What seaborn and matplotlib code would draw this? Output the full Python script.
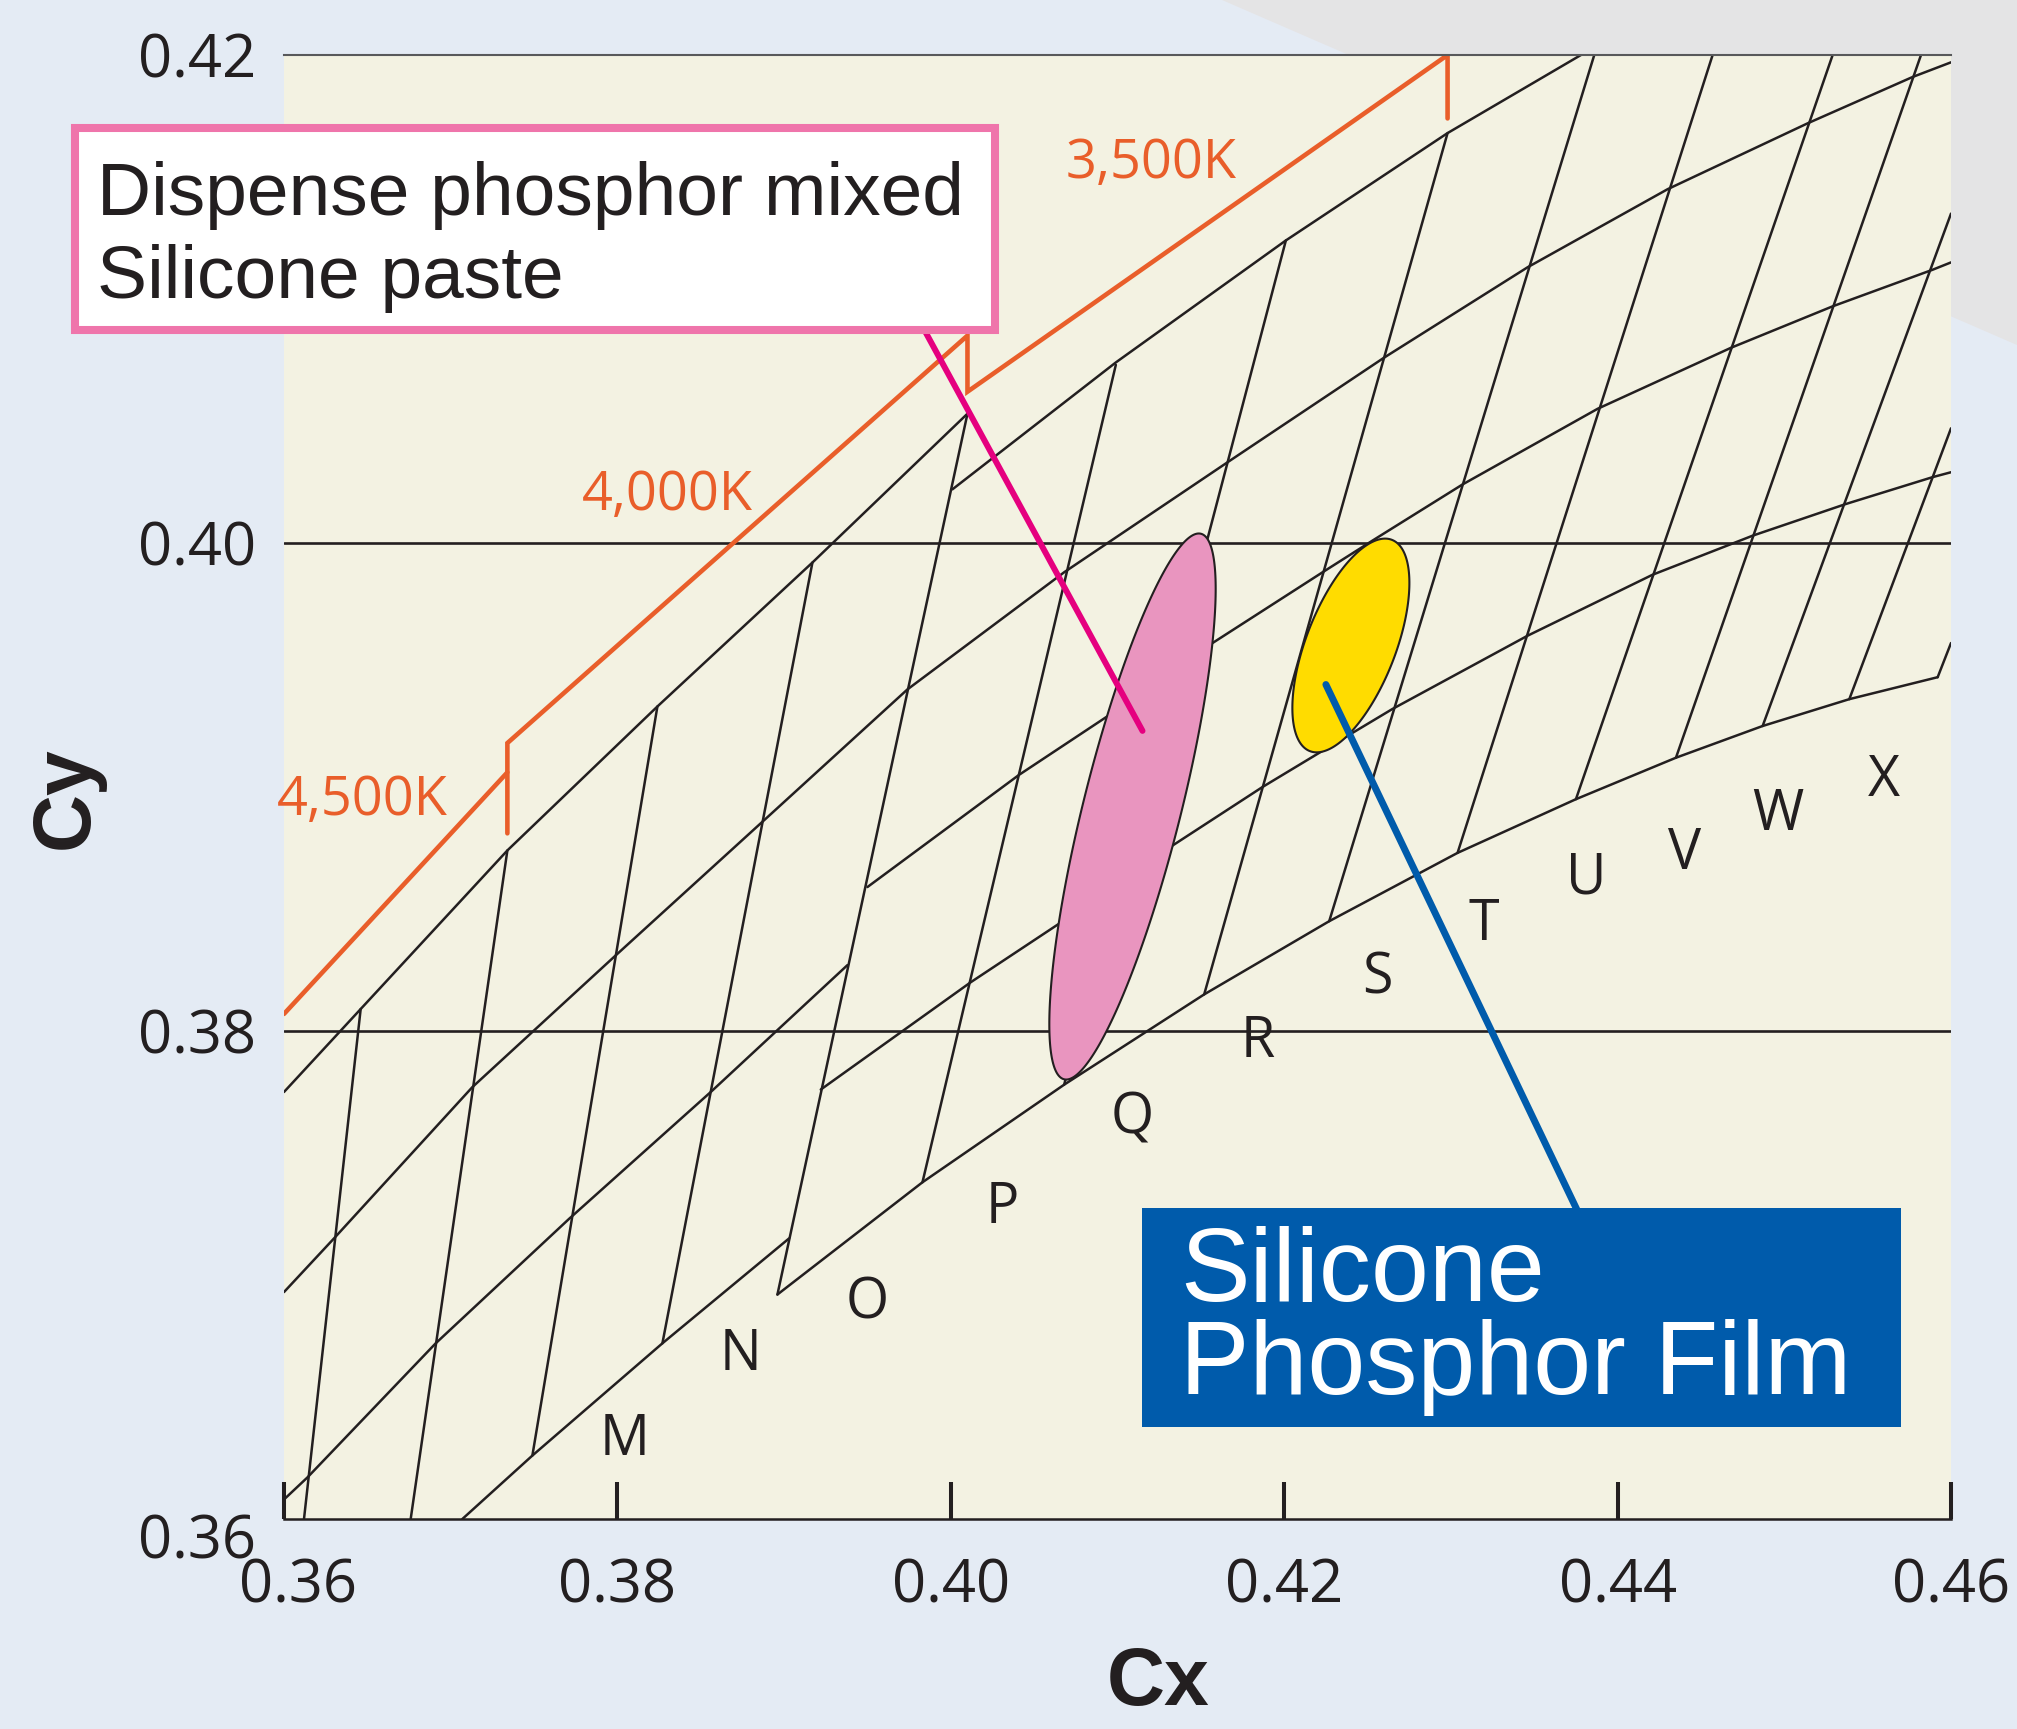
import numpy as np
import pandas as pd
import seaborn as sns
import matplotlib.pyplot as plt
from matplotlib import font_manager
from matplotlib.patches import Rectangle, Polygon
from matplotlib.transforms import ScaledTranslation

sns.set_theme(style='white')
plt.rcParams['font.family'] = ['Liberation Sans', 'DejaVu Sans']

# narrow face for ticks / bin letters if it is there, otherwise a humanist sans
have_narrow = 'Liberation Sans Narrow' in {f.name for f in font_manager.fontManager.ttflist}
cond_font = ['Liberation Sans Narrow', 'DejaVu Sans'] if have_narrow else ['Open Sans', 'DejaVu Sans']
tick_size = 48 if have_narrow else 43
bin_size = 45 if have_narrow else 40
cct_size = 44 if have_narrow else 39

INK = '#231F20'
ORANGE = '#E95E2A'
MAGENTA = '#E5007F'
PINK_EDGE = '#EF75AB'
BLUE = '#005BAB'
BG = '#E4EBF4'
CREAM = '#F3F2E2'

# ---------------- data (CIE chromaticity Cx, Cy) ----------------
x_ticks = [0.36, 0.38, 0.40, 0.42, 0.44, 0.46]
y_ticks = [0.36, 0.38, 0.40, 0.42]
ref_levels = [0.38, 0.40]

# bin rows: curves running up to the right
curve_a_x = [0.3600, 0.3646, 0.3734, 0.3824, 0.3917, 0.4010]
curve_a_y = [0.3775, 0.3809, 0.3874, 0.3933, 0.3992, 0.4053]
curve_b_x = [0.3600, 0.3630, 0.3713, 0.3799, 0.3889, 0.3974, 0.4068, 0.4168, 0.4260, 0.4346, 0.4430, 0.4514, 0.4577, 0.4600]
curve_b_y = [0.3693, 0.3715, 0.3777, 0.3831, 0.3887, 0.3940, 0.3988, 0.4034, 0.4076, 0.4113, 0.4145, 0.4172, 0.4191, 0.4197]
curve_c_x = [0.3600, 0.3614, 0.3691, 0.3771, 0.3856, 0.3938]
curve_c_y = [0.3608, 0.3617, 0.3672, 0.3723, 0.3775, 0.3827]
curve_d_x = [0.3707, 0.3749, 0.3827, 0.3903]
curve_d_y = [0.3600, 0.3626, 0.3672, 0.3715]
curve_e_x = [0.4001, 0.4099, 0.4201, 0.4298, 0.4378]
curve_e_y = [0.4022, 0.4074, 0.4124, 0.4168, 0.4200]
curve_f_x = [0.3950, 0.4041, 0.4094, 0.4157, 0.4223, 0.4253, 0.4307, 0.4388, 0.4468, 0.4529, 0.4589, 0.4600]
curve_f_y = [0.3859, 0.3905, 0.3929, 0.3959, 0.3988, 0.4001, 0.4024, 0.4055, 0.4080, 0.4097, 0.4112, 0.4115]
curve_g_x = [0.3922, 0.4012, 0.4065, 0.4133, 0.4187, 0.4221, 0.4265, 0.4346, 0.4421, 0.4481, 0.4537, 0.4589, 0.4600]
curve_g_y = [0.3776, 0.3820, 0.3844, 0.3876, 0.3900, 0.3914, 0.3932, 0.3962, 0.3987, 0.4003, 0.4016, 0.4027, 0.4029]
curve_h_x = [0.3896, 0.3983, 0.4068, 0.4152, 0.4227, 0.4304, 0.4375, 0.4435, 0.4487, 0.4539, 0.4592]
curve_h_y = [0.3692, 0.3738, 0.3778, 0.3815, 0.3845, 0.3873, 0.3895, 0.3912, 0.3925, 0.3936, 0.3945]

# bin edges: lower end -> upper end
edge_x0 = [0.3612, 0.3676, 0.3749, 0.3827, 0.3896, 0.3983, 0.4068, 0.4152, 0.4227, 0.4304, 0.4375, 0.4435, 0.4487, 0.4539, 0.4592]
edge_y0 = [0.3600, 0.3600, 0.3626, 0.3672, 0.3692, 0.3738, 0.3778, 0.3815, 0.3845, 0.3873, 0.3895, 0.3912, 0.3925, 0.3936, 0.3945]
edge_x1 = [0.3646, 0.3734, 0.3824, 0.3917, 0.4010, 0.4099, 0.4201, 0.4298, 0.4386, 0.4457, 0.4529, 0.4582, 0.4600, 0.4600, 0.4600]
edge_y1 = [0.3809, 0.3874, 0.3933, 0.3992, 0.4053, 0.4073, 0.4124, 0.4168, 0.4200, 0.4200, 0.4200, 0.4200, 0.4135, 0.4047, 0.3959]

# CCT boundary (orange) with its steps
cct_lower_x = [0.3600, 0.3734]
cct_lower_y = [0.3807, 0.3906]
cct_upper_x = [0.3734, 0.3734, 0.4010, 0.4010, 0.4298, 0.4298]
cct_upper_y = [0.3881, 0.3918, 0.4085, 0.4062, 0.4200, 0.4174]
cct_names = ['4,500K', '4,000K', '3,500K']
cct_label_x = [0.3647, 0.3830, 0.4120]
cct_label_y = [0.3897, 0.4022, 0.4158]

bin_names = ['M', 'N', 'O', 'P', 'Q', 'R', 'S', 'T', 'U', 'V', 'W', 'X']
bin_label_x = [0.3804, 0.3874, 0.3950, 0.4031, 0.4109, 0.4184, 0.4256, 0.4320, 0.4381, 0.4440, 0.4496, 0.4560]
bin_label_y = [0.3635, 0.3670, 0.3691, 0.3730, 0.3767, 0.3798, 0.3824, 0.3846, 0.3865, 0.3875, 0.3891, 0.3905]

# colour spread of the two processes (ellipses)
spot_names = ['Dispense phosphor mixed\nSilicone paste', 'Silicone\nPhosphor Film']
spot_cx = [0.4109, 0.4240]
spot_cy = [0.3892, 0.3958]
spot_half_w = [0.00499, 0.00351]
spot_half_h = [0.01119, 0.00438]
spot_tilt = [0.797, 0.585]
spot_colors = ['#E995BF', '#FFDC00']
pointer_x = [0.4115, 0.4225]
pointer_y = [0.3923, 0.3942]

# ---------------- figure ----------------
fig = plt.figure(figsize=(20.17, 17.29), dpi=100, facecolor=BG)
fig.patches.append(Polygon([(0.6058, 1.0), (1.0, 1.0), (1.0, 0.8005)], closed=True,
                           transform=fig.transFigure, facecolor='#E4E4E5', edgecolor='none', zorder=-1))
ax = fig.add_axes([0.1408, 0.12146, 0.82648, 0.84673])
ax.set_facecolor(CREAM)

rows = []
curves = {'a': (curve_a_x, curve_a_y), 'b': (curve_b_x, curve_b_y), 'c': (curve_c_x, curve_c_y),
          'd': (curve_d_x, curve_d_y), 'e': (curve_e_x, curve_e_y), 'f': (curve_f_x, curve_f_y),
          'g': (curve_g_x, curve_g_y), 'h': (curve_h_x, curve_h_y)}
for name, (xs, ys) in curves.items():
    for x, y in zip(xs, ys):
        rows.append({'line': name, 'cx': x, 'cy': y})
for i, (x0, y0, x1, y1) in enumerate(zip(edge_x0, edge_y0, edge_x1, edge_y1)):
    rows.append({'line': f'edge{i}', 'cx': x0, 'cy': y0})
    rows.append({'line': f'edge{i}', 'cx': x1, 'cy': y1})
grid_df = pd.DataFrame(rows)
sns.lineplot(data=grid_df, x='cx', y='cy', units='line', estimator=None, sort=False,
             color=INK, linewidth=1.8, legend=False, ax=ax, zorder=2)

for y in ref_levels:
    ax.axhline(y, color=INK, linewidth=1.9, zorder=2)

cct_df = pd.DataFrame({'cx': cct_lower_x + cct_upper_x, 'cy': cct_lower_y + cct_upper_y,
                       'part': ['low'] * len(cct_lower_x) + ['up'] * len(cct_upper_x)})
sns.lineplot(data=cct_df, x='cx', y='cy', units='part', estimator=None, sort=False,
             color=ORANGE, linewidth=3.3, legend=False, ax=ax, zorder=2.5,
             solid_capstyle='round', solid_joinstyle='miter')

for s, x, y in zip(cct_names, cct_label_x, cct_label_y):
    ax.text(x, y, s, ha='center', va='center_baseline', color=ORANGE,
            fontsize=cct_size, family=cond_font)
for s, x, y in zip(bin_names, bin_label_x, bin_label_y):
    ax.text(x, y, s, ha='center', va='center_baseline', color=INK,
            fontsize=bin_size, family=cond_font)

t = np.linspace(0, 2 * np.pi, 300)
for cx, cy, hw, hh, rho, col in zip(spot_cx, spot_cy, spot_half_w, spot_half_h, spot_tilt, spot_colors):
    ex = cx + hw * np.cos(t)
    ey = cy + hh * (rho * np.cos(t) + np.sqrt(1 - rho ** 2) * np.sin(t))
    ax.fill(ex, ey, facecolor=col, edgecolor=INK, linewidth=1.5, zorder=3)

# leader lines from the boxes to the spots
ax.annotate('', xy=(pointer_x[0], pointer_y[0]), xycoords='data',
            xytext=(0.4564, 0.8132), textcoords='figure fraction',
            arrowprops=dict(arrowstyle='-', color=MAGENTA, lw=4.3, shrinkA=0, shrinkB=0), zorder=4)
ax.annotate('', xy=(pointer_x[1], pointer_y[1]), xycoords='data',
            xytext=(0.7838, 0.2955), textcoords='figure fraction',
            arrowprops=dict(arrowstyle='-', color=BLUE, lw=5.0, shrinkA=0, shrinkB=0,
                            capstyle='round'), zorder=4)

ax.set_xlim(0.36, 0.46)
ax.set_ylim(0.36, 0.42)
ax.set_xticks(x_ticks)
ax.set_xticklabels([f'{v:.2f}' for v in x_ticks])
ax.set_yticks(y_ticks)
ax.set_yticklabels([f'{v:.2f}' for v in y_ticks])
ax.tick_params(axis='x', bottom=True, direction='in', length=26.6, width=2.9, color=INK,
               pad=27, labelsize=tick_size, labelcolor=INK)
ax.tick_params(axis='y', left=False, length=0, pad=20, labelsize=tick_size, labelcolor=INK)
for lab in ax.get_xticklabels() + ax.get_yticklabels():
    lab.set_family(cond_font)
ax.xaxis.get_major_ticks()[0].label1.set_transform(
    ax.xaxis.get_major_ticks()[0].label1.get_transform() + ScaledTranslation(0.14, 0, fig.dpi_scale_trans))
ax.yaxis.get_major_ticks()[0].label1.set_transform(
    ax.yaxis.get_major_ticks()[0].label1.get_transform() + ScaledTranslation(0, -0.17, fig.dpi_scale_trans))

for side in ['left', 'right']:
    ax.spines[side].set_visible(False)
ax.spines['top'].set_color('#58595B')
ax.spines['top'].set_linewidth(1.5)
ax.spines['bottom'].set_color(INK)
ax.spines['bottom'].set_linewidth(1.8)

ax.set_xlabel('Cx', fontsize=58, fontweight='bold', color=INK, va='baseline')
ax.xaxis.set_label_coords(0.5243, -0.1270)
ax.set_ylabel('Cy', fontsize=58, fontweight='bold', color=INK, va='center')
ax.yaxis.set_label_coords(-0.1302, 0.4925)

# callout boxes
fig.patches.append(Rectangle((0.03694, 0.80914), 0.45637, 0.11683, transform=fig.transFigure,
                             facecolor='white', edgecolor=PINK_EDGE, linewidth=5.8, zorder=5))
for line, y in zip(spot_names[0].split('\n'), [0.87565, 0.82736]):
    fig.text(0.0481, y, line, fontsize=54, color=INK, va='baseline', ha='left', zorder=6)
fig.patches.append(Rectangle((0.5662, 0.17467), 0.3763, 0.12666, transform=fig.transFigure,
                             facecolor=BLUE, edgecolor='none', zorder=5))
for line, y in zip(spot_names[1].split('\n'), [0.24766, 0.19358]):
    fig.text(0.5850, y, line, fontsize=75, color='white', va='baseline', ha='left', zorder=6)

fig.savefig('out.png', dpi=100, facecolor=BG)
